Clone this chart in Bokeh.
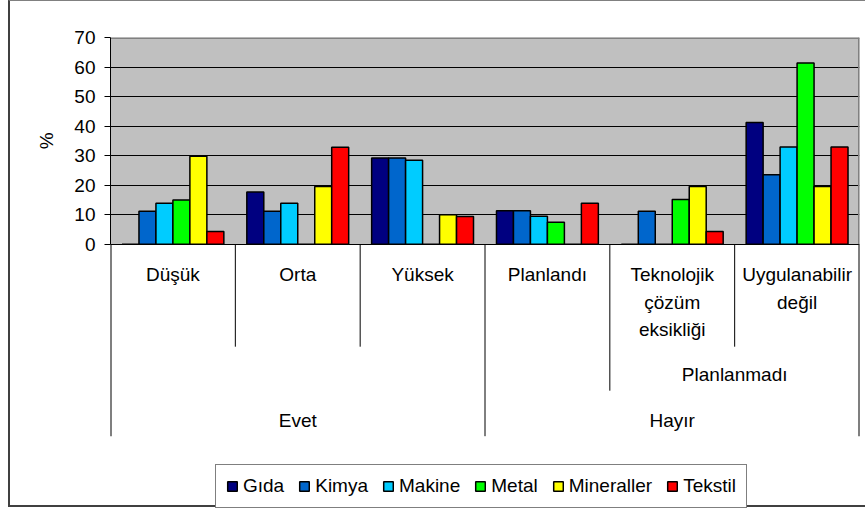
from bokeh.plotting import figure
from bokeh.models import Range1d, LinearAxis, FixedTicker, Grid, Legend, LegendItem, Title
from bokeh.core.properties import value
from bokeh.embed import file_html
from bokeh.resources import INLINE

# ---------------- data ----------------
categories = ["Düşük", "Orta", "Yüksek", "Planlandı",
              "Teknolojik\nçözüm\neksikliği", "Uygulanabilir\ndeğil"]
top_groups = ["Evet", "Hayır"]
top_group_spans = [(0, 3), (3, 6)]
mid_groups = ["Planlanmadı"]
mid_group_spans = [(4, 6)]
boundary_level = [3, 1, 1, 3, 2, 1, 3]   # hierarchy level each category boundary separates

series = ["Gıda", "Kimya", "Makine", "Metal", "Mineraller", "Tekstil"]
gida = [0, 17.7, 29.2, 11.3, 0, 41.2]
kimya = [11.2, 11.2, 29.2, 11.3, 11.2, 23.5]
makine = [13.9, 13.9, 28.4, 9.5, 0, 32.9]
metal = [15.0, 0, 0, 7.4, 15.1, 61.4]
mineraller = [29.8, 19.5, 10.0, 0, 19.5, 19.5]
tekstil = [4.3, 32.8, 9.4, 13.9, 4.3, 32.9]
y_ticks = [0, 10, 20, 30, 40, 50, 60, 70]
y_label = "%"

# ---------------- styling / layout ----------------
colors = ["#000080", "#0066CC", "#00CCFF", "#00FF00", "#FFFF00", "#FF0000"]
FONT = "Liberation Sans"
CANVAS_X0, CANVAS_Y0 = 10, 1                      # page px (margin + css borders)
FRAME_LEFT, FRAME_RIGHT = 110.0, 859.0            # page px
FRAME_TOP, ZERO_Y, FRAME_BOTTOM = 37.0, 243.7, 508.0
PPU = (ZERO_Y - FRAME_TOP) / (y_ticks[-1] - y_ticks[0])   # px per y unit
n = len(categories)


def below(px):
    return -px / PPU


LEVEL_DEPTH_PX = {1: 102.5, 2: 146.5, 3: 192.0}
L1_PX, LINE_PX, L2_PX, L3_PX = 30.3, 27.5, 130.3, 175.8
BAR_W = 0.136
W, H = 867 - CANVAS_X0, 508 - CANVAS_Y0

p = figure(width=W, height=H, output_backend="svg", toolbar_location=None,
           x_range=Range1d(0, n), y_range=Range1d(below(FRAME_BOTTOM - ZERO_Y), y_ticks[-1]),
           x_axis_type=None, y_axis_type=None,
           min_border_left=int(FRAME_LEFT - CANVAS_X0), min_border_right=int(867 - FRAME_RIGHT),
           min_border_top=int(FRAME_TOP - CANVAS_Y0), min_border_bottom=0)
p.outline_line_color = None
p.background_fill_color = "white"
p.border_fill_color = "white"
p.styles = {"margin-left": "8px", "border-left": "2px solid #404040",
            "border-top": "1px solid #808080", "border-bottom": "2px solid #404040"}

# plot area background
p.quad(left=[0], right=[n], bottom=[y_ticks[0]], top=[y_ticks[-1]],
       fill_color="#C0C0C0", line_color=None, level="image")

# y axis
yaxis = LinearAxis(ticker=FixedTicker(ticks=y_ticks), bounds=(y_ticks[0], y_ticks[-1]))
yaxis.axis_line_color = "black"
yaxis.major_tick_line_color = "black"
yaxis.major_tick_out = 6
yaxis.major_tick_in = 0
yaxis.minor_tick_line_color = None
yaxis.major_label_standoff = 9
yaxis.major_label_text_font = FONT
yaxis.major_label_text_font_size = "19px"
yaxis.major_label_text_color = "black"
p.add_layout(yaxis, "left")

# "%" axis title, centred on the 0..70 part of the axis
label_center = ZERO_Y - PPU * (y_ticks[-1] - y_ticks[0]) / 2      # page px
ytitle = Title(text=y_label, align="right", offset=label_center - FRAME_TOP - 8.5,
               text_font=FONT, text_font_size="19px", text_font_style="normal",
               text_color="black", standoff=30)
p.add_layout(ytitle, "left")

grid = Grid(dimension=1, ticker=FixedTicker(ticks=y_ticks), bounds=(y_ticks[0], y_ticks[-2]))
grid.grid_line_color = "black"
grid.grid_line_width = 1
p.add_layout(grid)

# plot area border (top / right, gray)
p.segment(x0=[0, n], y0=[y_ticks[-1], y_ticks[0]], x1=[n, n], y1=[y_ticks[-1], y_ticks[-1]],
          line_color="#808080", line_width=3)

# bars
vals = [gida, kimya, makine, metal, mineraller, tekstil]
renderers = []
for j, (name, v, c) in enumerate(zip(series, vals, colors)):
    xs = [i + 0.5 + (j - (len(series) - 1) / 2) * BAR_W for i in range(n)]
    r = p.vbar(x=xs, top=v, width=BAR_W, bottom=0, fill_color=c,
               line_color="black", line_width=1.5)
    renderers.append(r)

# category hierarchy separators
for b, lvl in zip(range(n + 1), boundary_level):
    lw = 2 if b in (0, n) else 1
    p.segment(x0=[b], y0=[0], x1=[b], y1=[below(LEVEL_DEPTH_PX[lvl])],
              line_color="black", line_width=lw)

# category labels
tx, ty, tt = [], [], []
for i, cat in enumerate(categories):
    for k, line in enumerate(cat.split("\n")):
        tx.append(i + 0.5)
        ty.append(below(L1_PX + k * LINE_PX))
        tt.append(line)
for name, (a, b) in zip(mid_groups, mid_group_spans):
    tx.append((a + b) / 2); ty.append(below(L2_PX)); tt.append(name)
for name, (a, b) in zip(top_groups, top_group_spans):
    tx.append((a + b) / 2); ty.append(below(L3_PX)); tt.append(name)
p.text(x=tx, y=ty, text=tt, text_align="center", text_baseline="middle",
       text_font=value(FONT), text_font_size="19px", text_color="black")

legend = Legend(items=[LegendItem(label=s, renderers=[r]) for s, r in zip(series, renderers)],
                orientation="horizontal", location=(105, 0))
legend.label_text_font = FONT
legend.label_text_font_size = "19px"
legend.label_text_color = "black"
legend.glyph_width = 12
legend.glyph_height = 12
legend.label_standoff = 5
legend.spacing = 14
legend.padding = 10
legend.margin = 0
legend.border_line_color = "black"
legend.border_line_width = 1
legend.background_fill_color = "white"
legend.background_fill_alpha = 1
p.add_layout(legend)

open("out.html", "w").write(file_html(p, INLINE))
